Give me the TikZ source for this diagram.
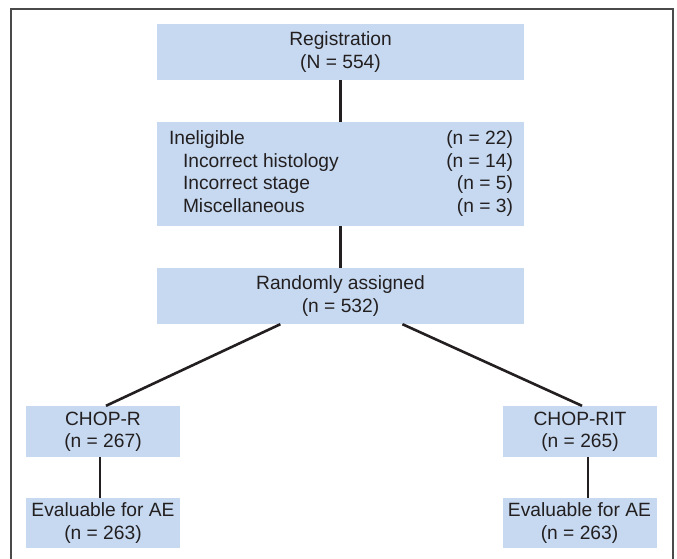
\documentclass[tikz,border=0pt]{standalone}
\usepackage{fontspec}
\setmainfont{Liberation Sans}
\definecolor{boxblue}{HTML}{C6D9F0}
\definecolor{ink}{HTML}{231F20}
\definecolor{framegray}{HTML}{4A4A4A}

\begin{document}
\begin{tikzpicture}[x=1pt, y=-1pt,
    box/.style={rectangle, fill=boxblue, text=ink, inner sep=0pt, align=center,
        font=\fontsize{19.2}{22.4}\selectfont},
    link/.style={draw=ink, line width=2.6pt}]
    \useasboundingbox (0,0) rectangle (677,559);
    \draw[framegray, line width=1.8pt] (11,559) -- (11,9) -- (673,9) -- (673,559);

    \node[box, minimum width=367pt, minimum height=56pt] (reg) at (340.5,52) {Registration\\(N = 554)};
    \node[box, minimum width=367pt, minimum height=104pt] (inel) at (340.5,174) {%
        \begin{tabular*}{345pt}{@{\hspace{1pt}}l@{\extracolsep{\fill}}r@{}}
        Ineligible & (n = 22)\\
        \hspace{14pt}Incorrect histology & (n = 14)\\
        \hspace{14pt}Incorrect stage & (n = 5)\\
        \hspace{14pt}Miscellaneous & (n = 3)
        \end{tabular*}};
    \node[box, minimum width=367pt, minimum height=56pt] (rand) at (340.5,296) {Randomly assigned\\(n = 532)};

    \node[box, minimum width=154pt, minimum height=51pt] (chopr) at (103,431.5) {CHOP-R\\(n = 267)};
    \node[box, minimum width=154pt, minimum height=50pt] (evl) at (103,523) {Evaluable for AE\\(n = 263)};
    \node[box, minimum width=154pt, minimum height=51pt] (choprit) at (580,431.5) {CHOP-RIT\\(n = 265)};
    \node[box, minimum width=154pt, minimum height=50pt] (evr) at (579.5,523) {Evaluable for AE\\(n = 263)};

    \draw[link] (reg) -- (inel);
    \draw[link] (inel) -- (rand);
    \draw[link] (rand) -- ([xshift=3pt]chopr.north);
    \draw[link] (rand) -- ([xshift=2pt]choprit.north);
    \draw[link] ([xshift=-3pt]chopr.south) -- ([xshift=-3pt]evl.north);
    \draw[link] ([xshift=8pt]choprit.south) -- ([xshift=8.5pt]evr.north);
\end{tikzpicture}
\end{document}
